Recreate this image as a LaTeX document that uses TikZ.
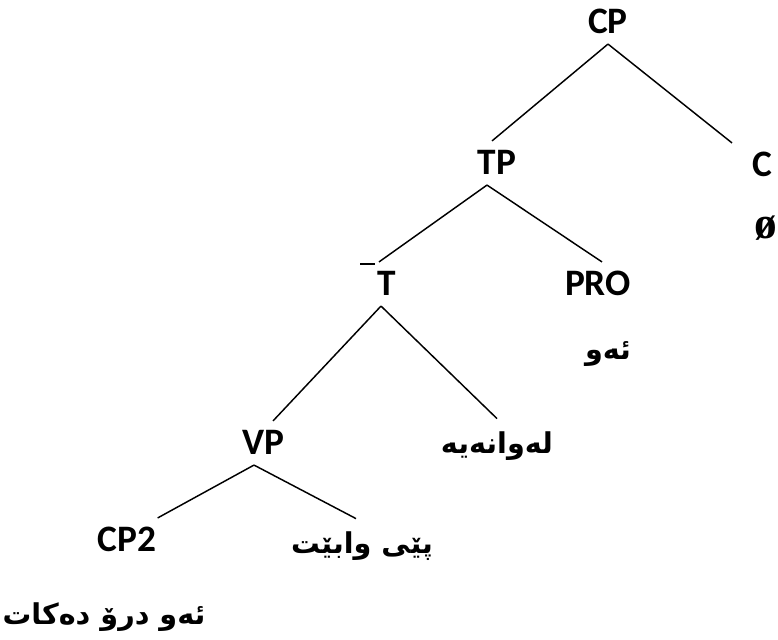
\documentclass[tikz,border=0pt]{standalone}
\usepackage{fontspec}
\setmainfont{Carlito}
\newfontfamily\kurdfont[Script=Arabic]{DejaVu Sans}
\newfontfamily\emptysetfont{Liberation Serif}
\TeXXeTstate=1

\begin{document}
\begin{tikzpicture}[x=0.75pt, y=-0.75pt, line width=1.1pt,
    lbl/.style={font=\fontsize{28}{32}\selectfont\bfseries, inner sep=0pt,
        text height=17.5pt, text depth=0pt, minimum height=32pt},
    word/.style={font=\kurdfont\fontsize{21.5}{24}\selectfont\bfseries,
        inner sep=0pt, minimum height=40pt}]
    \useasboundingbox (0,0) rectangle (778,639);

    \node[lbl] (cp) at (608,22) {CP};
    \node[lbl] (tp) at (497,163) {TP};
    \node[lbl] (c) at (762,165) {C};
    \node[font=\emptysetfont\fontsize{34}{36}\selectfont\bfseries, inner sep=0pt] (cnull) at (766,228) {ø};
    \node[lbl] (tbar) at (387,284) {T};
    \node[lbl] (pro) at (598,284) {PRO};
    \node[word] (ew) at (608,354) {\beginR ئەو\endR};
    \node[lbl] (vp) at (263,443) {VP};
    \node[word] (lewaneye) at (497,446) {\beginR لەوانەیە\endR};
    \node[lbl] (cp2) at (127,540) {CP2};
    \node[word] (pey) at (362,546) {\beginR پێی وابێت\endR};
    \node[word] (ewdro) at (104,617) {\beginR ئەو درۆ دەکات\endR};

    \draw ([xshift=-20pt,yshift=-1.7pt]tbar.north) -- ++(11.25pt,0);

    \draw (cp.south) -- ([xshift=-3.75pt]tp.north);
    \draw (cp.south) -- ([xshift=-22.5pt]c.north);
    \draw ([xshift=-7.5pt]tp.south) -- ([xshift=-6pt]tbar.north);
    \draw ([xshift=-7.5pt]tp.south) -- ([xshift=3pt]pro.north);
    \draw ([xshift=-4.5pt]tbar.south) -- ([xshift=7.5pt]vp.north);
    \draw ([xshift=-4.5pt]tbar.south) -- (lewaneye.north);
    \draw ([xshift=-6.75pt]vp.south) -- ([xshift=23pt]cp2.north);
    \draw ([xshift=-6.75pt]vp.south) -- ([xshift=-4.5pt]pey.north);
\end{tikzpicture}
\end{document}
